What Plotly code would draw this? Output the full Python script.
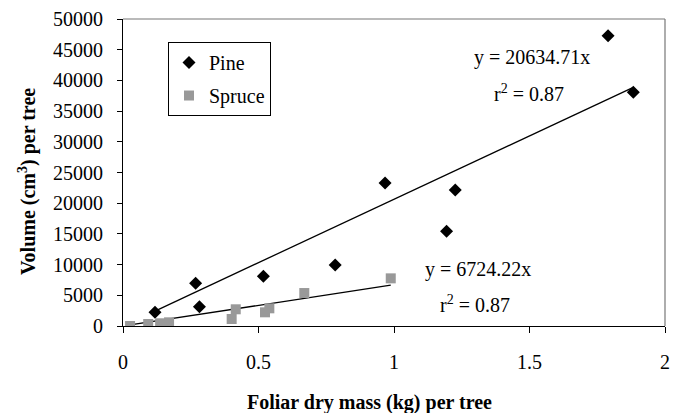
import plotly.graph_objects as go

# Data
pine_x = [0.118, 0.268, 0.282, 0.518, 0.783, 0.967, 1.194, 1.226, 1.790, 1.883]
pine_y = [2230, 6950, 3140, 8090, 9930, 23290, 15420, 22150, 47280, 38060]

spruce_x = [0.026, 0.093, 0.137, 0.170, 0.401, 0.416, 0.524, 0.540, 0.669, 0.988]
spruce_y = [0, 330, 440, 600, 1140, 2720, 2230, 2880, 5370, 7760]

pine_slope = 20634.71
spruce_slope = 6724.22

x_ticks = [0, 0.5, 1, 1.5, 2]
x_tick_labels = ["0", "0.5", "1", "1.5", "2"]
y_ticks = list(range(0, 50001, 5000))
y_tick_labels = [str(v) for v in y_ticks]

FONT = "Liberation Serif"

fig = go.Figure()

# Trend lines through origin spanning each data range
px_line = [min(pine_x), max(pine_x)]
sx_line = [min(spruce_x), max(spruce_x)]
fig.add_trace(go.Scatter(x=px_line, y=[pine_slope * v for v in px_line], mode="lines",
                         line=dict(color="black", width=1.3), showlegend=False, hoverinfo="skip"))
fig.add_trace(go.Scatter(x=sx_line, y=[spruce_slope * v for v in sx_line], mode="lines",
                         line=dict(color="black", width=1.3), showlegend=False, hoverinfo="skip"))

fig.add_trace(go.Scatter(x=pine_x, y=pine_y, mode="markers", name="Pine", legendgroup="pine",
                         marker=dict(symbol="diamond", size=10, color="black")))
fig.add_trace(go.Scatter(x=spruce_x, y=spruce_y, mode="markers", name="Spruce", legendgroup="spruce",
                         marker=dict(symbol="square", size=10, color="#999999")))

fig.update_layout(
    width=671, height=405,
    margin=dict(l=115, r=14, t=11, b=87, autoexpand=False),
    paper_bgcolor="white", plot_bgcolor="white",
    font=dict(family=FONT, size=20, color="black"),
    showlegend=True,
    legend=dict(x=0.083, y=0.925, xanchor="left", yanchor="top",
                bordercolor="black", borderwidth=1, bgcolor="white",
                font=dict(family=FONT, size=20, color="black"),
                traceorder="grouped", tracegroupgap=4,
                itemwidth=30),
    xaxis=dict(range=[0, 2], tickvals=x_ticks, ticktext=x_tick_labels, automargin=False,
               showgrid=False, zeroline=False, showline=True, linecolor="black", linewidth=1,
               ticks="outside", ticklen=6, tickcolor="black", ticklabelstandoff=12,
               tickfont=dict(family=FONT, size=20, color="black")),
    yaxis=dict(range=[0, 50000], tickvals=y_ticks, ticktext=y_tick_labels, automargin=False,
               showgrid=False, zeroline=False, showline=True, linecolor="black", linewidth=1,
               ticks="outside", ticklen=5, tickcolor="black", ticklabelstandoff=10,
               tickfont=dict(family=FONT, size=20, color="black")),
    shapes=[
        dict(type="line", xref="paper", yref="paper", x0=0, x1=1, y0=1, y1=1,
             line=dict(color="#777777", width=1.2)),
        dict(type="line", xref="paper", yref="paper", x0=1, x1=1, y0=0, y1=1,
             line=dict(color="#777777", width=1.2)),
    ],
    annotations=[
        dict(text="y = 20634.71x", x=1.509, y=43650, xref="x", yref="y", showarrow=False,
             font=dict(family=FONT, size=20, color="black")),
        dict(text="r<sup>2</sup> = 0.87", x=1.498, y=37900, xref="x", yref="y", showarrow=False,
             font=dict(family=FONT, size=20, color="black")),
        dict(text="y = 6724.22x", x=1.310, y=9280, xref="x", yref="y", showarrow=False,
             font=dict(family=FONT, size=20, color="black")),
        dict(text="r<sup>2</sup> = 0.87", x=1.300, y=3600, xref="x", yref="y", showarrow=False,
             font=dict(family=FONT, size=20, color="black")),
        dict(text="<b>Foliar dry mass (kg) per tree</b>", xref="paper", yref="paper",
             x=(369 - 123) / 542, y=-(402 - 326) / 307, xanchor="center", yanchor="middle",
             showarrow=False, font=dict(family=FONT, size=20, color="black")),
        dict(text="<b>Volume (cm<sup>3</sup>) per tree</b>", xref="paper", yref="paper",
             x=-(123 - 27) / 542, y=(326 - 182) / 307, xanchor="center", yanchor="middle",
             textangle=-90, showarrow=False, font=dict(family=FONT, size=20, color="black")),
    ],
)

fig.write_html("out.html")
